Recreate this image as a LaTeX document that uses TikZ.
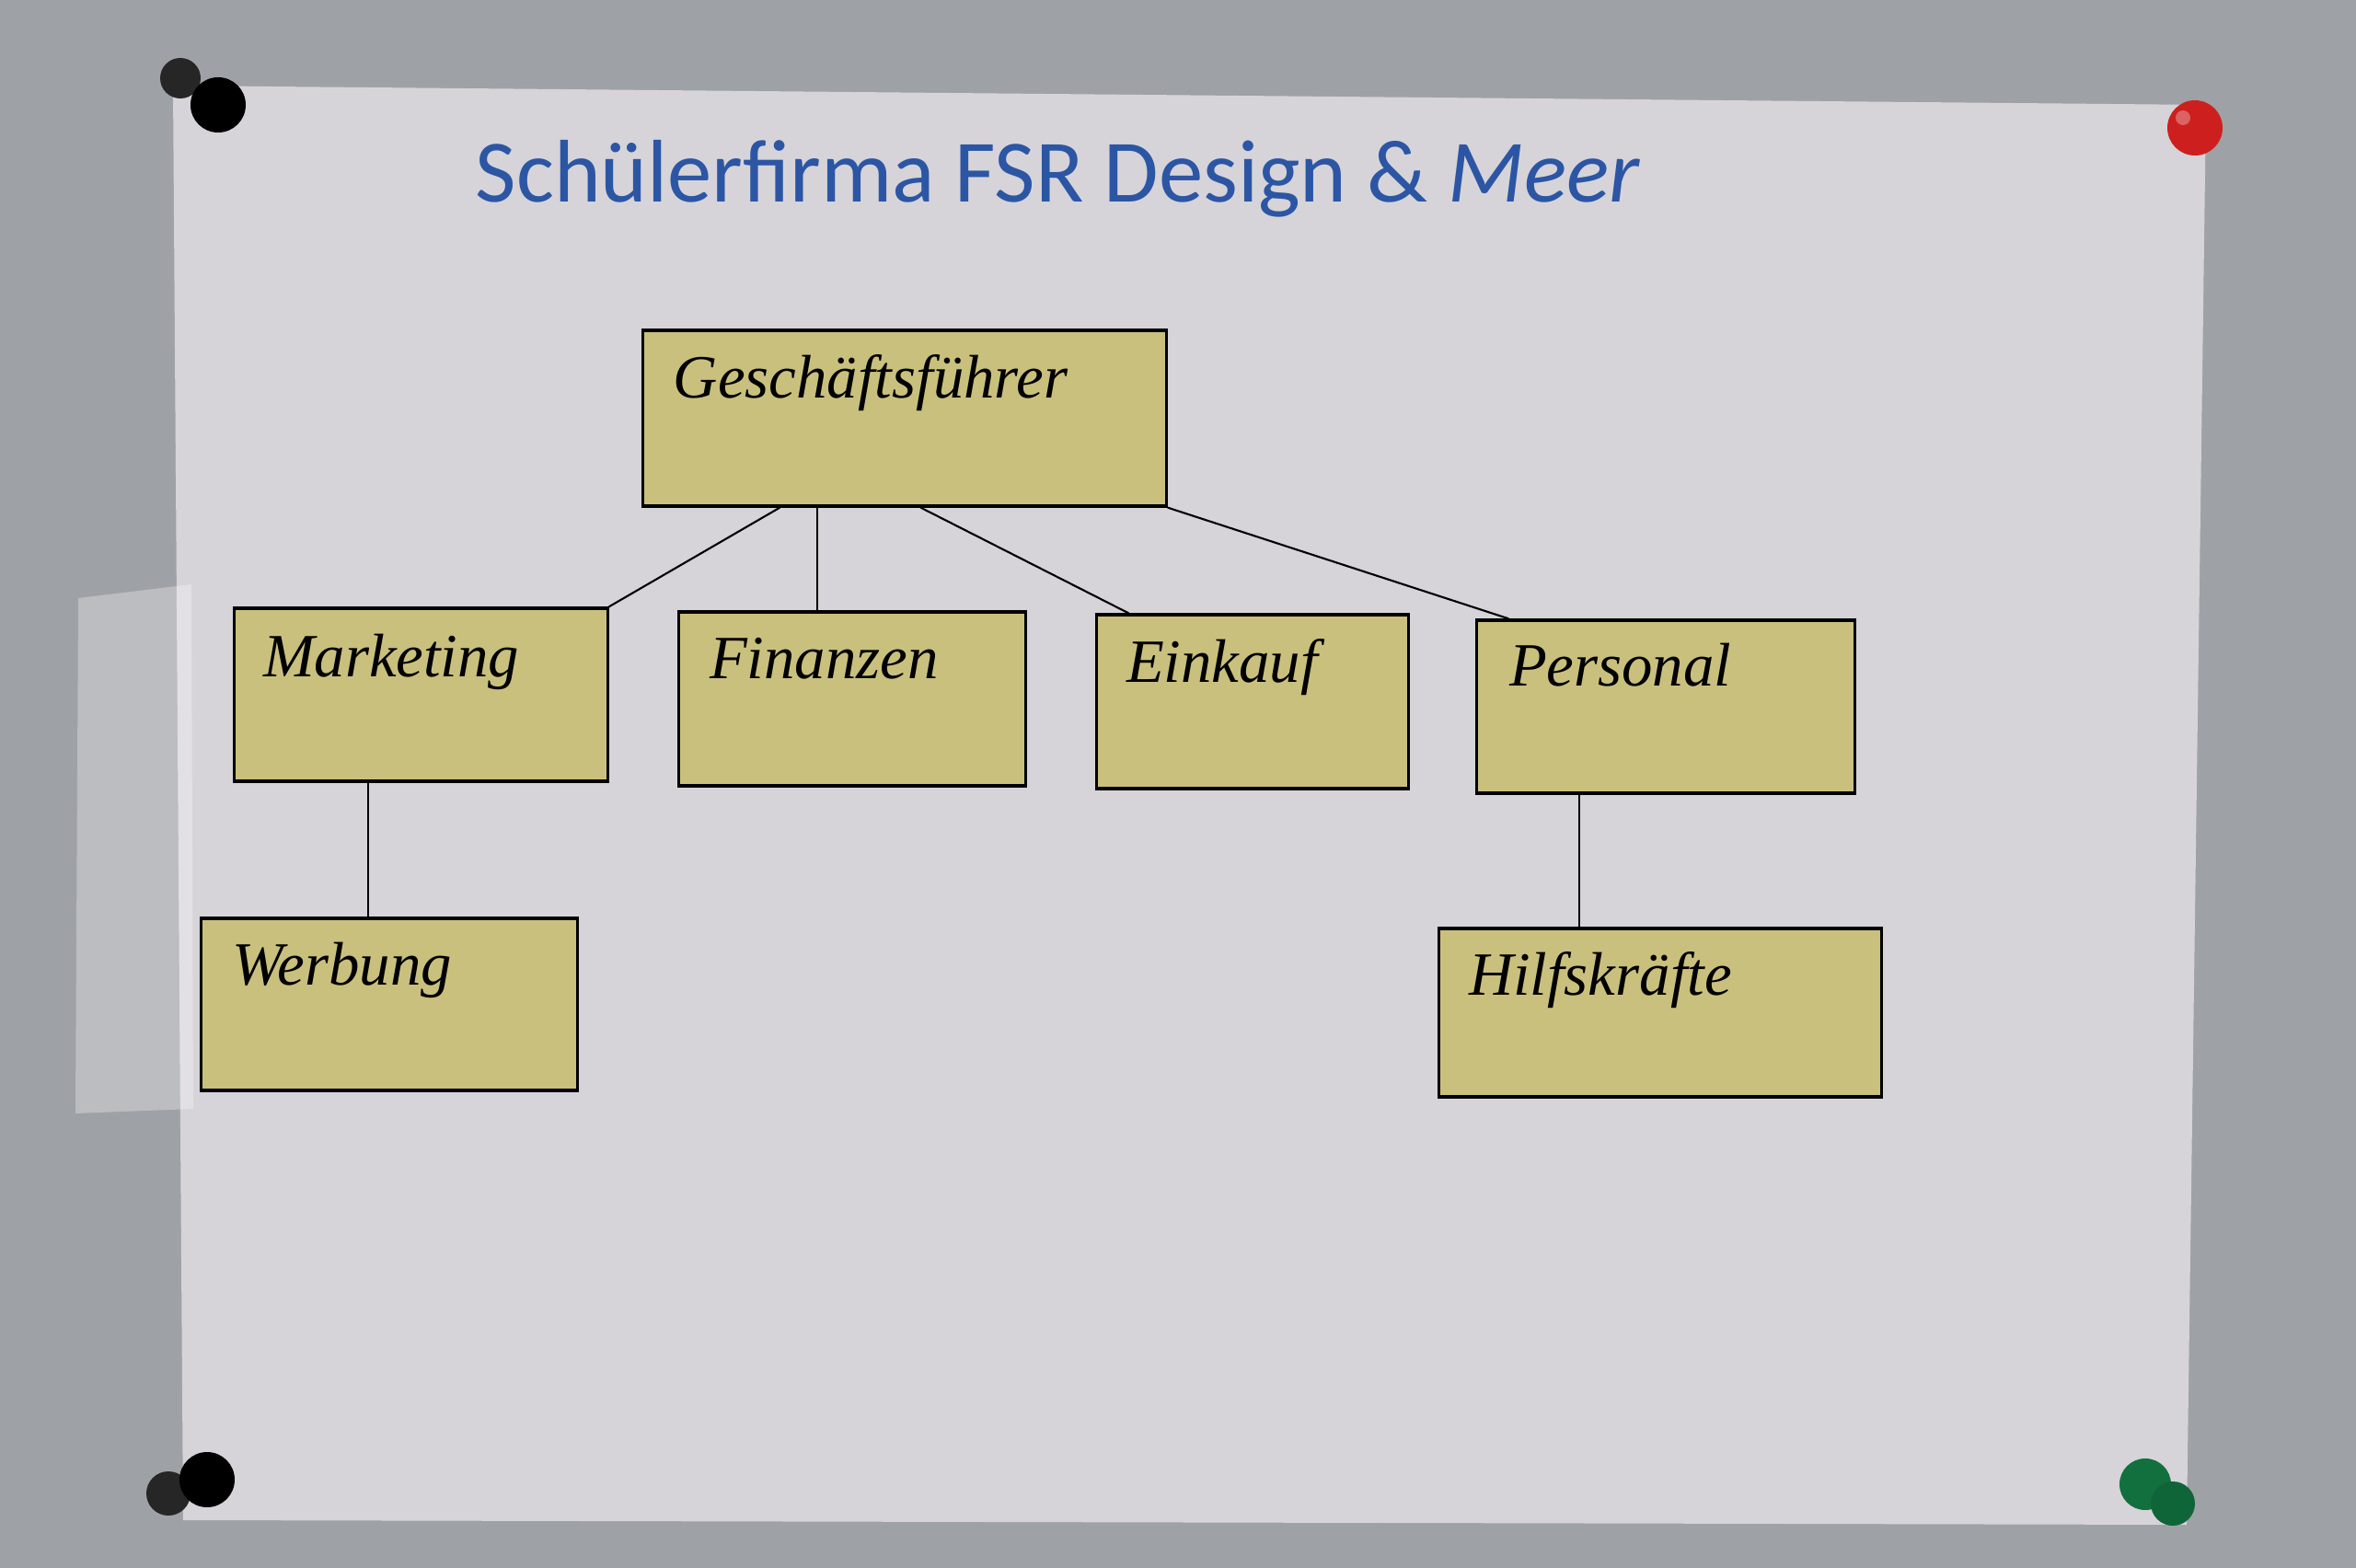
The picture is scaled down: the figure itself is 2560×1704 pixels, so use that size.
\documentclass[tikz,border=0pt]{standalone}
\usepackage{fontspec}
\setmainfont{Liberation Serif}
\newfontfamily\titlefont{Carlito}
\usetikzlibrary{calc}

\definecolor{wallgray}{RGB}{158,161,166}
\definecolor{papergray}{RGB}{214,212,217}
\definecolor{boxkhaki}{RGB}{201,192,126}
\definecolor{titleblue}{RGB}{44,86,164}
\definecolor{pinred}{RGB}{205,32,30}
\definecolor{pingreen}{RGB}{18,112,62}

\begin{document}
\begin{tikzpicture}[x=0.01cm, y=-0.01cm,
  orgbox/.style={draw=black, line width=0.9pt, fill=boxkhaki, inner sep=0pt},
  orglabel/.style={anchor=base west, inner sep=0pt,
                   font=\fontsize{19}{22}\selectfont\itshape},
  orgline/.style={black, line width=0.6pt}]

\useasboundingbox (0, 0) rectangle (2560, 1704);
\fill[wallgray] (0, 0) rectangle (2560, 1704);

% the sheet of paper and the tape
\fill[papergray] (188, 93) -- (2397, 114) -- (2376, 1657) -- (199, 1652) -- cycle;
\fill[white, opacity=0.3] (85, 650) -- (208, 635) -- (210, 1205) -- (82, 1210) -- cycle;

% the pins
\fill[black!85] (196, 85) circle[radius=22];
\fill[black] (237, 114) circle[radius=30];
\fill[pinred] (2385, 139) circle[radius=30];
\fill[pinred!70!white] (2372, 128) circle[radius=8];
\fill[black!85] (183, 1623) circle[radius=24];
\fill[black] (225, 1608) circle[radius=30];
\fill[pingreen] (2331, 1613) circle[radius=28];
\fill[pingreen!90!black] (2361, 1634) circle[radius=24];

% the title
\node[anchor=base west, inner sep=0pt, text=titleblue,
      font=\titlefont\fontsize{27.5}{32}\selectfont] (title) at (516, 220)
      {Schülerfirma FSR Design \& \textit{Meer}};

% draw the boxes
\node[orgbox, minimum width=5.68cm, minimum height=1.91cm] (gf) at (983, 454.5) {};
\node[orgbox, minimum width=4.05cm, minimum height=1.88cm] (mkt) at (457.5, 755) {};
\node[orgbox, minimum width=3.76cm, minimum height=1.89cm] (fin) at (926, 759.5) {};
\node[orgbox, minimum width=3.38cm, minimum height=1.89cm] (ein) at (1361, 762.5) {};
\node[orgbox, minimum width=4.10cm, minimum height=1.88cm] (pers) at (1810, 768) {};
\node[orgbox, minimum width=4.08cm, minimum height=1.87cm] (wer) at (423, 1091.5) {};
\node[orgbox, minimum width=4.80cm, minimum height=1.83cm] (hilf) at (1804, 1100.5) {};

% draw the labels
\node[orglabel] (gflabel) at ([shift={(0.34cm,-0.75cm)}]gf.north west) {Geschäftsführer};
\node[orglabel] (mktlabel) at ([shift={(0.32cm,-0.76cm)}]mkt.north west) {Marketing};
\node[orglabel] (finlabel) at ([shift={(0.34cm,-0.74cm)}]fin.north west) {Finanzen};
\node[orglabel] (einlabel) at ([shift={(0.33cm,-0.75cm)}]ein.north west) {Einkauf};
\node[orglabel] (perslabel) at ([shift={(0.36cm,-0.73cm)}]pers.north west) {Personal};
\node[orglabel] (werlabel) at ([shift={(0.34cm,-0.74cm)}]wer.north west) {Werbung};
\node[orglabel] (hilflabel) at ([shift={(0.33cm,-0.74cm)}]hilf.north west) {Hilfskräfte};

% draw the lines
\draw[orgline] ([xshift=1.50cm]gf.south west) -- (mkt.north east);
\draw[orgline] ([xshift=1.91cm]gf.south west) -- ([xshift=1.91cm]gf.south west |- fin.north);
\draw[orgline] ([xshift=3.03cm]gf.south west) -- ([xshift=0.36cm]ein.north west);
\draw[orgline] (gf.south east) -- ([xshift=0.36cm]pers.north west);
\draw[orgline] ([xshift=1.47cm]mkt.south west) -- ([xshift=1.47cm]mkt.south west |- wer.north);
\draw[orgline] ([xshift=1.13cm]pers.south west) -- ([xshift=1.13cm]pers.south west |- hilf.north);

\end{tikzpicture}
\end{document}
